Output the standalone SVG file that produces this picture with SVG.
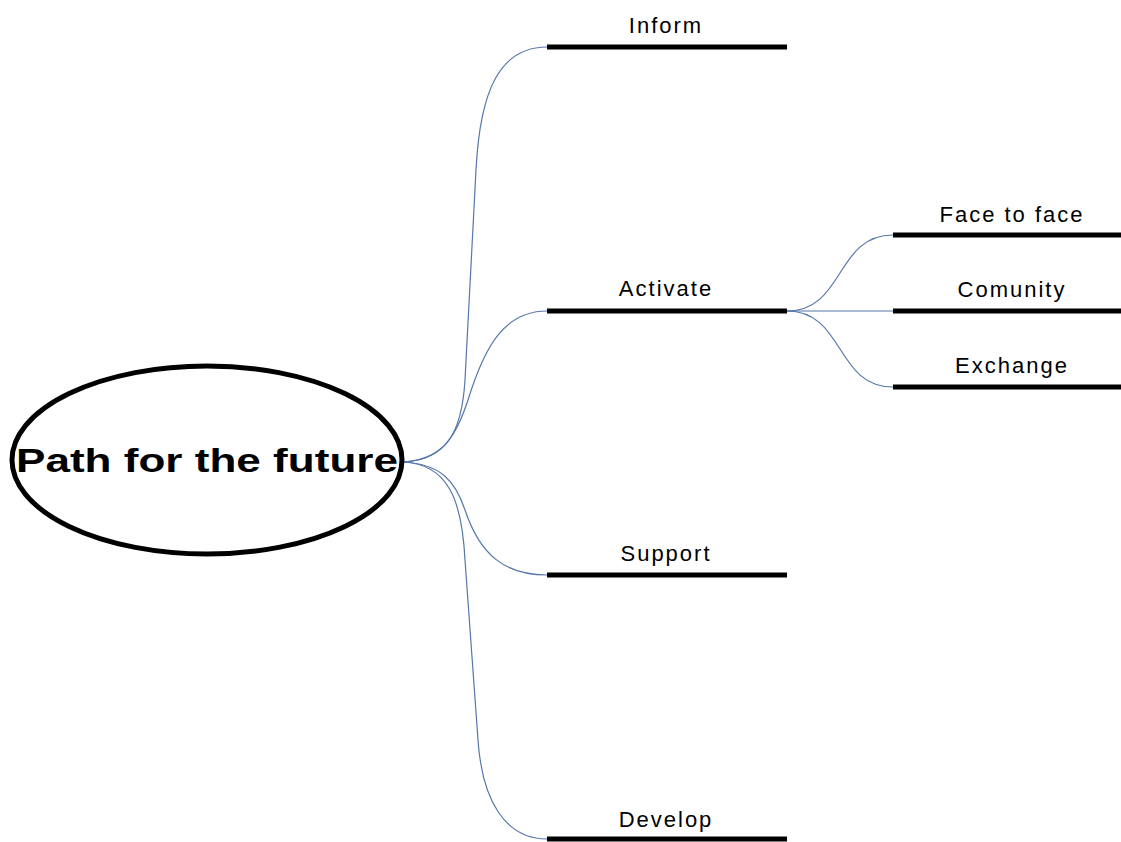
<svg xmlns="http://www.w3.org/2000/svg" width="1121" height="842" viewBox="0 0 1121 842">
<style>
.bar{stroke:#000;stroke-width:5;fill:none}
.lbl{font-family:"Liberation Sans",Arial,sans-serif;font-size:22px;letter-spacing:2px;text-anchor:middle;fill:#000}
.con{stroke:#5577aa;stroke-width:1.2;fill:none}
</style>
<rect width="1121" height="842" fill="#fff"/>
<g id="connectors">
<path class="con" d="M403,462 C448,460 462,430 465,380 L476,170 C480,90 500,47 547,47"/>
<path class="con" d="M403,462 C440,460 455,440 468,400 C485,345 505,311 547,311"/>
<path class="con" d="M403,462 C440,464 455,480 465,510 C480,555 505,575 547,575"/>
<path class="con" d="M403,462 C448,464 462,500 465,560 L478,740 C482,800 505,839 547,839"/>
<path class="con" d="M787,311 C845,311 835,235 893,235"/>
<path class="con" d="M787,311 L893,311"/>
<path class="con" d="M787,311 C845,311 835,387 893,387"/>
</g>
<g id="root">
<ellipse cx="207" cy="460" rx="195" ry="94" fill="#fff" stroke="#000" stroke-width="5"/>
<text x="207" y="472" font-family="Liberation Sans,Arial,sans-serif" font-weight="bold" font-size="34" text-anchor="middle" textLength="382" lengthAdjust="spacingAndGlyphs">Path for the future</text>
</g>
<g id="inform"><line class="bar" x1="547" y1="47" x2="787" y2="47"/><text class="lbl" x="666" y="33">Inform</text></g>
<g id="activate"><line class="bar" x1="547" y1="311" x2="787" y2="311"/><text class="lbl" x="666" y="296">Activate</text></g>
<g id="support"><line class="bar" x1="547" y1="575" x2="787" y2="575"/><text class="lbl" x="666" y="561">Support</text></g>
<g id="develop"><line class="bar" x1="547" y1="839" x2="787" y2="839"/><text class="lbl" x="666" y="827">Develop</text></g>
<g id="face"><line class="bar" x1="893" y1="235" x2="1121" y2="235"/><text class="lbl" x="1012" y="222">Face to face</text></g>
<g id="comunity"><line class="bar" x1="893" y1="311" x2="1121" y2="311"/><text class="lbl" x="1012" y="297">Comunity</text></g>
<g id="exchange"><line class="bar" x1="893" y1="387" x2="1121" y2="387"/><text class="lbl" x="1012" y="373">Exchange</text></g>
</svg>
